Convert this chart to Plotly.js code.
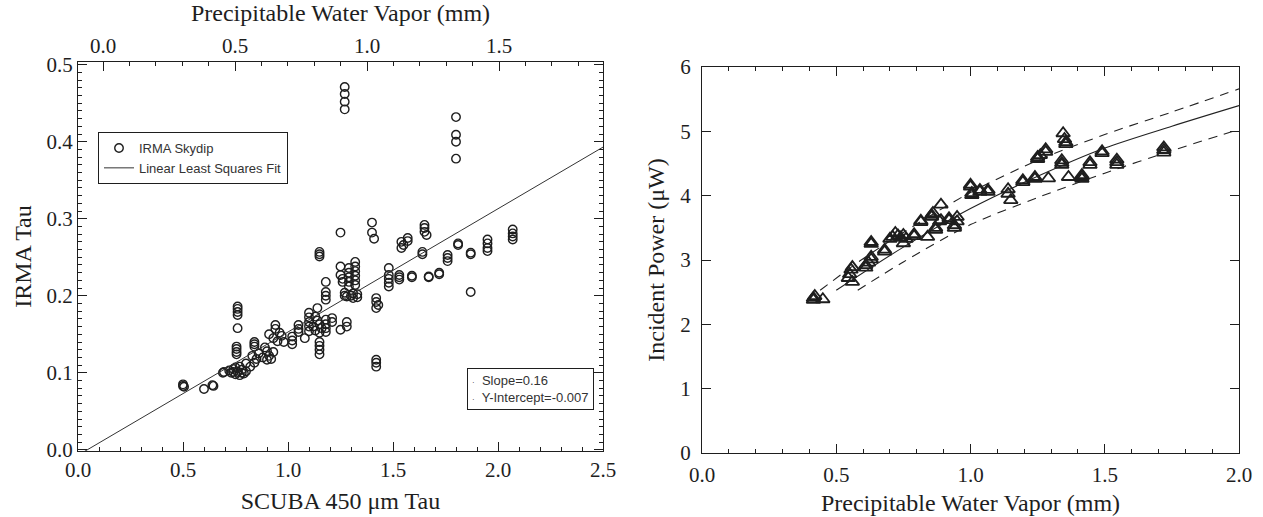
<!DOCTYPE html>
<html>
<head>
<meta charset="utf-8">
<script src="https://cdn.plot.ly/plotly-3.0.1.min.js"></script>
<style>html,body{margin:0;padding:0;background:#fff}#chart{width:1263px;height:517px}</style>
</head>
<body>
<div id="chart"></div>
<script>
// ---------- Left panel: IRMA skydip tau vs SCUBA 450 um tau ----------
const scubaTau = [
  0.50,0.50,0.505,
  0.60,
  0.64,0.645,
  0.69,0.695,
  0.76,0.76,0.76,0.76,0.76,
  0.755,0.755,0.755,0.755,
  0.72,0.73,0.74,0.75,0.76,0.77,0.78,0.79,0.80,0.75,0.77,0.74,0.78,
  0.84,0.84,0.84,
  0.83,0.85,0.86,0.88,
  0.89,0.90,0.91,0.92,0.93,0.90,
  0.82,0.80,0.84,
  0.94,0.94,
  0.91,0.93,0.95,0.97,0.98,0.96,
  1.02,1.02,1.02,
  1.05,1.05,1.05,
  1.08,
  1.10,1.10,1.10,1.10,1.10,
  1.14,
  1.13,1.14,1.15,1.16,1.13,1.15,1.12,
  1.15,1.15,1.15,1.15,
  1.18,1.18,1.18,1.18,
  1.21,1.21,
  1.25,
  1.28,1.28,
  1.15,1.15,1.15,
  1.18,
  1.18,1.18,1.18,
  1.25,
  1.25,1.26,1.26,
  1.27,1.27,1.28,
  1.29,1.29,1.29,1.29,1.29,
  1.32,1.32,1.32,1.32,1.32,1.32,
  1.30,1.31,1.33,1.33,1.31,
  1.25,
  1.27,1.27,1.27,1.27,
  1.40,1.40,1.41,
  1.42,1.42,1.43,1.42,
  1.42,1.42,1.42,
  1.48,1.48,1.48,1.48,1.48,
  1.53,1.53,1.53,
  1.54,1.55,1.54,
  1.57,1.57,
  1.59,1.59,
  1.67,1.67,
  1.64,1.64,
  1.65,1.65,1.65,1.66,
  1.72,1.72,
  1.76,1.76,1.76,
  1.80,1.80,1.80,1.80,
  1.81,1.81,
  1.87,1.87,
  1.87,
  1.95,1.95,1.95,1.95,
  2.07,2.07,2.07,2.07
];
const irmaTau = [
  0.083,0.085,0.082,
  0.079,
  0.084,0.083,
  0.100,0.101,
  0.186,0.183,0.179,0.175,0.158,
  0.134,0.131,0.127,0.124,
  0.103,0.100,0.105,0.098,0.101,0.097,0.104,0.099,0.102,0.107,0.108,0.101,0.100,
  0.140,0.137,0.134,
  0.122,0.118,0.125,0.120,
  0.133,0.128,0.122,0.118,0.127,0.117,
  0.108,0.112,0.113,
  0.162,0.157,
  0.150,0.145,0.141,0.148,0.140,0.152,
  0.147,0.142,0.137,
  0.162,0.157,0.153,
  0.145,
  0.178,0.172,0.166,0.160,0.154,
  0.184,
  0.173,0.168,0.163,0.158,0.155,0.152,0.160,
  0.140,0.135,0.130,0.124,
  0.169,0.163,0.158,0.153,
  0.171,0.166,
  0.156,
  0.166,0.160,
  0.257,0.254,0.251,
  0.218,
  0.205,0.200,0.195,
  0.238,
  0.227,0.222,0.218,
  0.204,0.200,0.199,
  0.236,0.230,0.224,0.218,0.212,
  0.244,0.238,0.232,0.226,0.220,0.214,
  0.200,0.197,0.202,0.198,0.203,
  0.282,
  0.471,0.462,0.452,0.442,
  0.295,0.282,0.274,
  0.197,0.192,0.188,0.184,
  0.117,0.113,0.108,
  0.236,0.227,0.222,0.217,0.212,
  0.227,0.224,0.221,
  0.270,0.266,0.262,
  0.275,0.271,
  0.226,0.224,
  0.225,0.224,
  0.257,0.254,
  0.292,0.288,0.283,0.279,
  0.230,0.228,
  0.253,0.249,0.245,
  0.432,0.409,0.400,0.378,
  0.268,0.266,
  0.256,0.254,
  0.205,
  0.273,0.268,0.262,0.258,
  0.286,0.281,0.277,0.273
];
const fitSlope = 0.16;
const fitIntercept = -0.007;
const fitTauEnds = [0.0, 2.5];
const statsLabels = ['Slope=0.16', 'Y-Intercept=-0.007'];
const legendLabels = ['IRMA Skydip', 'Linear Least Squares Fit'];

// ---------- Right panel: incident power vs PWV ----------
const pwv = [
  0.415,0.415,0.42,
  0.45,
  0.545,0.55,
  0.56,
  0.555,0.56,
  0.61,0.61,0.62,0.63,0.63,
  0.63,0.63,
  0.68,0.68,
  0.70,0.71,0.72,0.73,0.74,0.76,0.75,
  0.75,
  0.79,0.79,
  0.815,0.815,
  0.84,
  0.855,0.855,0.86,
  0.87,0.87,
  0.89,
  0.885,0.89,
  0.92,0.92,
  0.94,0.94,0.95,0.95,
  1.00,1.00,
  1.005,1.005,
  1.035,1.035,
  1.065,1.065,
  1.14,1.14,1.15,
  1.195,1.195,
  1.24,1.24,
  1.25,1.25,1.26,
  1.28,1.28,
  1.29,
  1.345,
  1.35,1.355,1.355,
  1.34,1.34,1.34,
  1.365,
  1.415,1.415,1.415,
  1.445,1.445,
  1.49,1.49,
  1.545,1.545,1.545,
  1.72,1.72,1.72
];
const power = [
  2.38,2.41,2.44,
  2.39,
  2.72,2.78,
  2.66,
  2.85,2.89,
  2.88,2.92,2.96,3.01,3.05,
  3.25,3.28,
  3.13,3.16,
  3.33,3.36,3.42,3.38,3.35,3.33,3.39,
  3.26,
  3.37,3.40,
  3.59,3.61,
  3.36,
  3.67,3.70,3.73,
  3.47,3.50,
  3.86,
  3.60,3.62,
  3.62,3.65,
  3.50,3.54,3.60,3.67,
  4.14,4.17,
  4.01,4.04,
  4.06,4.09,
  4.06,4.09,
  4.10,4.03,3.93,
  4.21,4.24,
  4.26,4.29,
  4.57,4.60,4.63,
  4.68,4.72,
  4.27,
  4.97,
  4.88,4.83,4.80,
  4.48,4.51,4.55,
  4.29,
  4.26,4.29,4.32,
  4.48,4.52,
  4.66,4.69,
  4.48,4.52,4.56,
  4.67,4.71,4.75
];
const modelPwv   = [0.50, 0.75, 1.00, 1.25, 1.50, 1.75, 2.00];
const modelPower = [2.53, 3.20, 3.80, 4.30, 4.74, 5.08, 5.40];
const upperPwv   = [0.44, 0.60, 0.80, 1.00, 1.25, 1.50, 1.75, 2.00];
const upperPower = [2.53, 3.02, 3.56, 4.05, 4.55, 4.95, 5.30, 5.66];
const lowerPwv   = [0.58, 0.75, 1.00, 1.25, 1.50, 1.75, 2.00];
const lowerPower = [2.53, 2.97, 3.55, 3.97, 4.35, 4.70, 5.03];

// ---------- styling ----------
const INK = '#1e1e1e';
const SERIF = 'Liberation Serif, Times New Roman, serif';
const SANS = 'Liberation Sans, Arial, sans-serif';
const tickFont = {family: SERIF, size: 21, color: INK};
const titleFont = {family: SERIF, size: 24, color: INK};

function axisBase(extra) {
  return Object.assign({
    showgrid: false, zeroline: false, showline: true, linecolor: INK, linewidth: 1,
    ticks: 'inside', ticklen: 9, tickwidth: 1, tickcolor: INK,
    tickfont: tickFont, tickformat: '.1f'
  }, extra);
}

const W = 1263, H = 517;
const L = {x0: 78, x1: 603, yTop: 62, yBot: 451};
const R = {x0: 702, x1: 1239, yTop: 67, yBot: 453};

const traces = [
  {
    x: scubaTau, y: irmaTau, type: 'scatter', mode: 'markers',
    name: legendLabels[0], xaxis: 'x', yaxis: 'y', legend: 'legend',
    marker: {symbol: 'circle-open', size: 8.5, color: INK, line: {width: 1.4, color: INK}},
    hoverinfo: 'skip'
  },
  {
    x: fitTauEnds, y: fitTauEnds.map(t => fitSlope * t + fitIntercept),
    type: 'scatter', mode: 'lines', name: legendLabels[1], xaxis: 'x', yaxis: 'y',
    line: {color: '#333', width: 1}, hoverinfo: 'skip'
  },
  {x: [], y: [], xaxis: 'x3', yaxis: 'y', type: 'scatter', mode: 'markers', showlegend: false, hoverinfo: 'skip'},
  {
    x: pwv, y: power, type: 'scatter', mode: 'markers', xaxis: 'x2', yaxis: 'y2', showlegend: false,
    marker: {symbol: 'triangle-up-open', size: 12, color: INK, line: {width: 1.8, color: INK}},
    hoverinfo: 'skip'
  },
  {
    x: modelPwv, y: modelPower, type: 'scatter', mode: 'lines', xaxis: 'x2', yaxis: 'y2', showlegend: false,
    line: {color: '#222', width: 1.1, shape: 'spline', smoothing: 0.8}, hoverinfo: 'skip'
  },
  {
    x: upperPwv, y: upperPower, type: 'scatter', mode: 'lines', xaxis: 'x2', yaxis: 'y2', showlegend: false,
    line: {color: '#222', width: 1.1, dash: '9px,7px', shape: 'spline', smoothing: 0.8}, hoverinfo: 'skip'
  },
  {
    x: lowerPwv, y: lowerPower, type: 'scatter', mode: 'lines', xaxis: 'x2', yaxis: 'y2', showlegend: false,
    line: {color: '#222', width: 1.1, dash: '9px,7px', shape: 'spline', smoothing: 0.8}, hoverinfo: 'skip'
  }
];

const layout = {
  width: W, height: H,
  margin: {l: 0, r: 0, t: 0, b: 0},
  paper_bgcolor: '#fff', plot_bgcolor: '#fff',
  showlegend: true,
  legend: {
    x: 98 / W, y: 1 - 132 / H, xanchor: 'left', yanchor: 'top',
    bordercolor: INK, borderwidth: 1, bgcolor: '#fff',
    font: {family: SANS, size: 13, color: '#333'},
    itemwidth: 30, tracegroupgap: 0
  },
  xaxis: axisBase({
    domain: [L.x0 / W, L.x1 / W], range: [0, 2.5], anchor: 'y',
    dtick: 0.5, tick0: 0,
    minor: {ticks: 'inside', ticklen: 4, dtick: 0.1, tickcolor: INK, tickwidth: 1},
    title: {text: 'SCUBA 450 μm Tau', font: titleFont, standoff: 10}
  }),
  xaxis3: axisBase({
    overlaying: 'x', side: 'top', anchor: 'y',
    range: [-0.095, 1.894], dtick: 0.5, tick0: 0,
    minor: {ticks: 'inside', ticklen: 4, dtick: 0.1, tickcolor: INK, tickwidth: 1},
    title: {text: 'Precipitable Water Vapor (mm)', font: titleFont, standoff: 6}
  }),
  yaxis: axisBase({
    domain: [1 - L.yBot / H, 1 - L.yTop / H], range: [-0.0015, 0.5035], anchor: 'x',
    dtick: 0.1, tick0: 0, mirror: 'ticks',
    minor: {ticks: 'inside', ticklen: 4, dtick: 0.01, tickcolor: INK, tickwidth: 1},
    title: {text: 'IRMA Tau', font: titleFont, standoff: 8}
  }),
  xaxis2: axisBase({
    domain: [R.x0 / W, R.x1 / W], range: [0, 2.0], anchor: 'y2',
    dtick: 0.5, tick0: 0, mirror: 'ticks', ticklabelstandoff: 3,
    minor: {ticks: 'inside', ticklen: 4, dtick: 0.1, tickcolor: INK, tickwidth: 1},
    title: {text: 'Precipitable Water Vapor (mm)', font: titleFont, standoff: 7}
  }),
  yaxis2: axisBase({
    domain: [1 - R.yBot / H, 1 - R.yTop / H], range: [0, 6], anchor: 'x2',
    dtick: 1, tick0: 0, tickformat: 'd', mirror: 'ticks', ticklabelstandoff: 6,
    title: {text: 'Incident Power (μW)', font: titleFont, standoff: 8}
  }),
  annotations: [{
    xref: 'paper', yref: 'paper', x: 467 / W, y: 1 - 368 / H, xanchor: 'left', yanchor: 'top',
    text: '<span style="font-size:8px">·</span>  ' + statsLabels[0] + '<br><span style="font-size:8px">·</span>  ' + statsLabels[1],
    align: 'left', showarrow: false,
    font: {family: SANS, size: 13, color: '#333'},
    bordercolor: INK, borderwidth: 1, borderpad: 4, bgcolor: '#fff'
  }]
};

Plotly.newPlot('chart', traces, layout, {staticPlot: true, displayModeBar: false});
</script>
</body>
</html>
